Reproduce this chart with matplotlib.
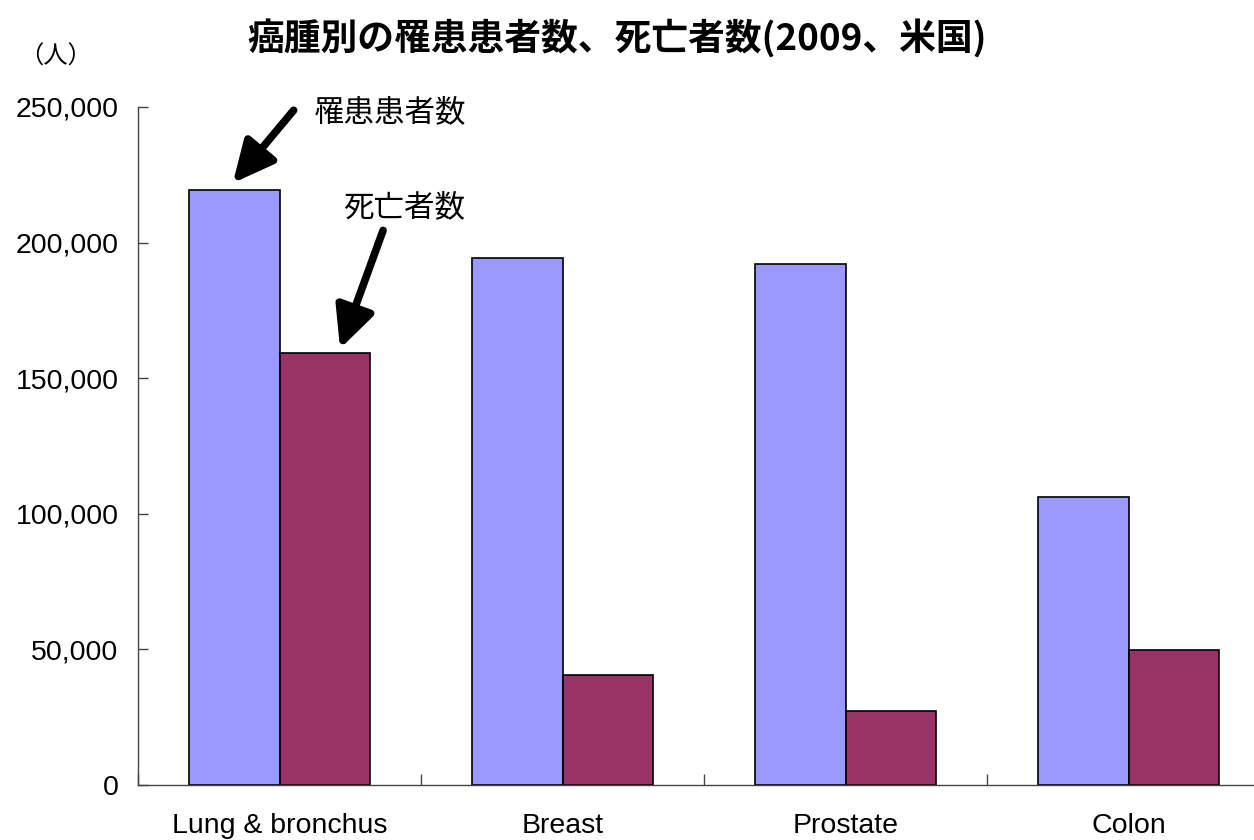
import numpy as np
import matplotlib as mpl
mpl.use("Agg")
import matplotlib.pyplot as plt
from matplotlib.ticker import FuncFormatter, FixedLocator

# 2009 US cancer statistics (persons)
categories = ["Lung & bronchus", "Breast", "Prostate", "Colon"]
new_cases = [219440, 194280, 192280, 106100]
deaths = [159390, 40610, 27360, 49920]

title = "癌腫別の罹患患者数、死亡者数(2009、米国)"
label_cases = "罹患患者数"
label_deaths = "死亡者数"
unit_label = "（人）"

CJK = ["Noto Sans CJK JP", "DejaVu Sans"]
LATIN = ["Liberation Sans", "DejaVu Sans"]


def main():
    fig = plt.figure(figsize=(12.54, 8.40), dpi=100)
    ax = fig.add_axes([138 / 1254, 55 / 840, 1116 / 1254, 678 / 840])

    x = np.arange(len(categories))
    w = 0.32
    ax.bar(x - w / 2, new_cases, w, color="#9999FF", edgecolor="black", linewidth=1.2, zorder=2)
    ax.bar(x + w / 2, deaths, w, color="#993366", edgecolor="black", linewidth=1.2, zorder=2)

    ax.set_ylim(0, 250000)
    ax.set_xlim(-0.5, -0.5 + 1116 / 283)
    ax.set_yticks(np.arange(0, 250001, 50000))
    ax.yaxis.set_major_formatter(FuncFormatter(lambda v, p: f"{v:,.0f}"))

    # labels at bar-group centres, short tick marks between groups
    ax.set_xticks(x)
    ax.set_xticklabels(categories)
    ax.xaxis.set_minor_locator(FixedLocator(np.arange(-0.5, len(categories), 1.0)))
    ax.tick_params(axis="x", which="major", length=0, pad=20)
    ax.tick_params(axis="x", which="minor", direction="in", length=8, width=1, color="#444444")
    ax.tick_params(axis="y", direction="in", length=7, width=1, color="#444444", pad=14)
    for lab in ax.get_xticklabels() + ax.get_yticklabels():
        lab.set_fontfamily(LATIN)
        lab.set_fontsize(20.5)

    for side in ["top", "right"]:
        ax.spines[side].set_visible(False)
    for side in ["left", "bottom"]:
        ax.spines[side].set_linewidth(1.0)
        ax.spines[side].set_color("#444444")

    fig.text(0.492, 1 - 39 / 840, title, ha="center", va="center", fontsize=26.5,
             fontweight="bold", family=CJK)
    fig.text(56 / 1254, 1 - 57 / 840, unit_label, ha="center", va="center",
             fontsize=17.5, family=CJK)

    arrow = dict(arrowstyle="-|>,head_length=1.25,head_width=0.6", lw=5.5,
                 color="black", mutation_scale=20, shrinkA=0, shrinkB=0)
    ax.annotate("", xy=(-0.165, new_cases[0] + 2500), xytext=(0.05, 248800),
                arrowprops=arrow)
    ax.text(0.12, 248000, label_cases, ha="left", va="center", fontsize=22, family=CJK)

    ax.annotate("", xy=(0.214, deaths[0] + 1500), xytext=(0.366, 204500),
                arrowprops=arrow)
    ax.text(0.225, 213000, label_deaths, ha="left", va="center", fontsize=22, family=CJK)

    fig.savefig("out.png", dpi=100)


if __name__ == "__main__":
    main()
